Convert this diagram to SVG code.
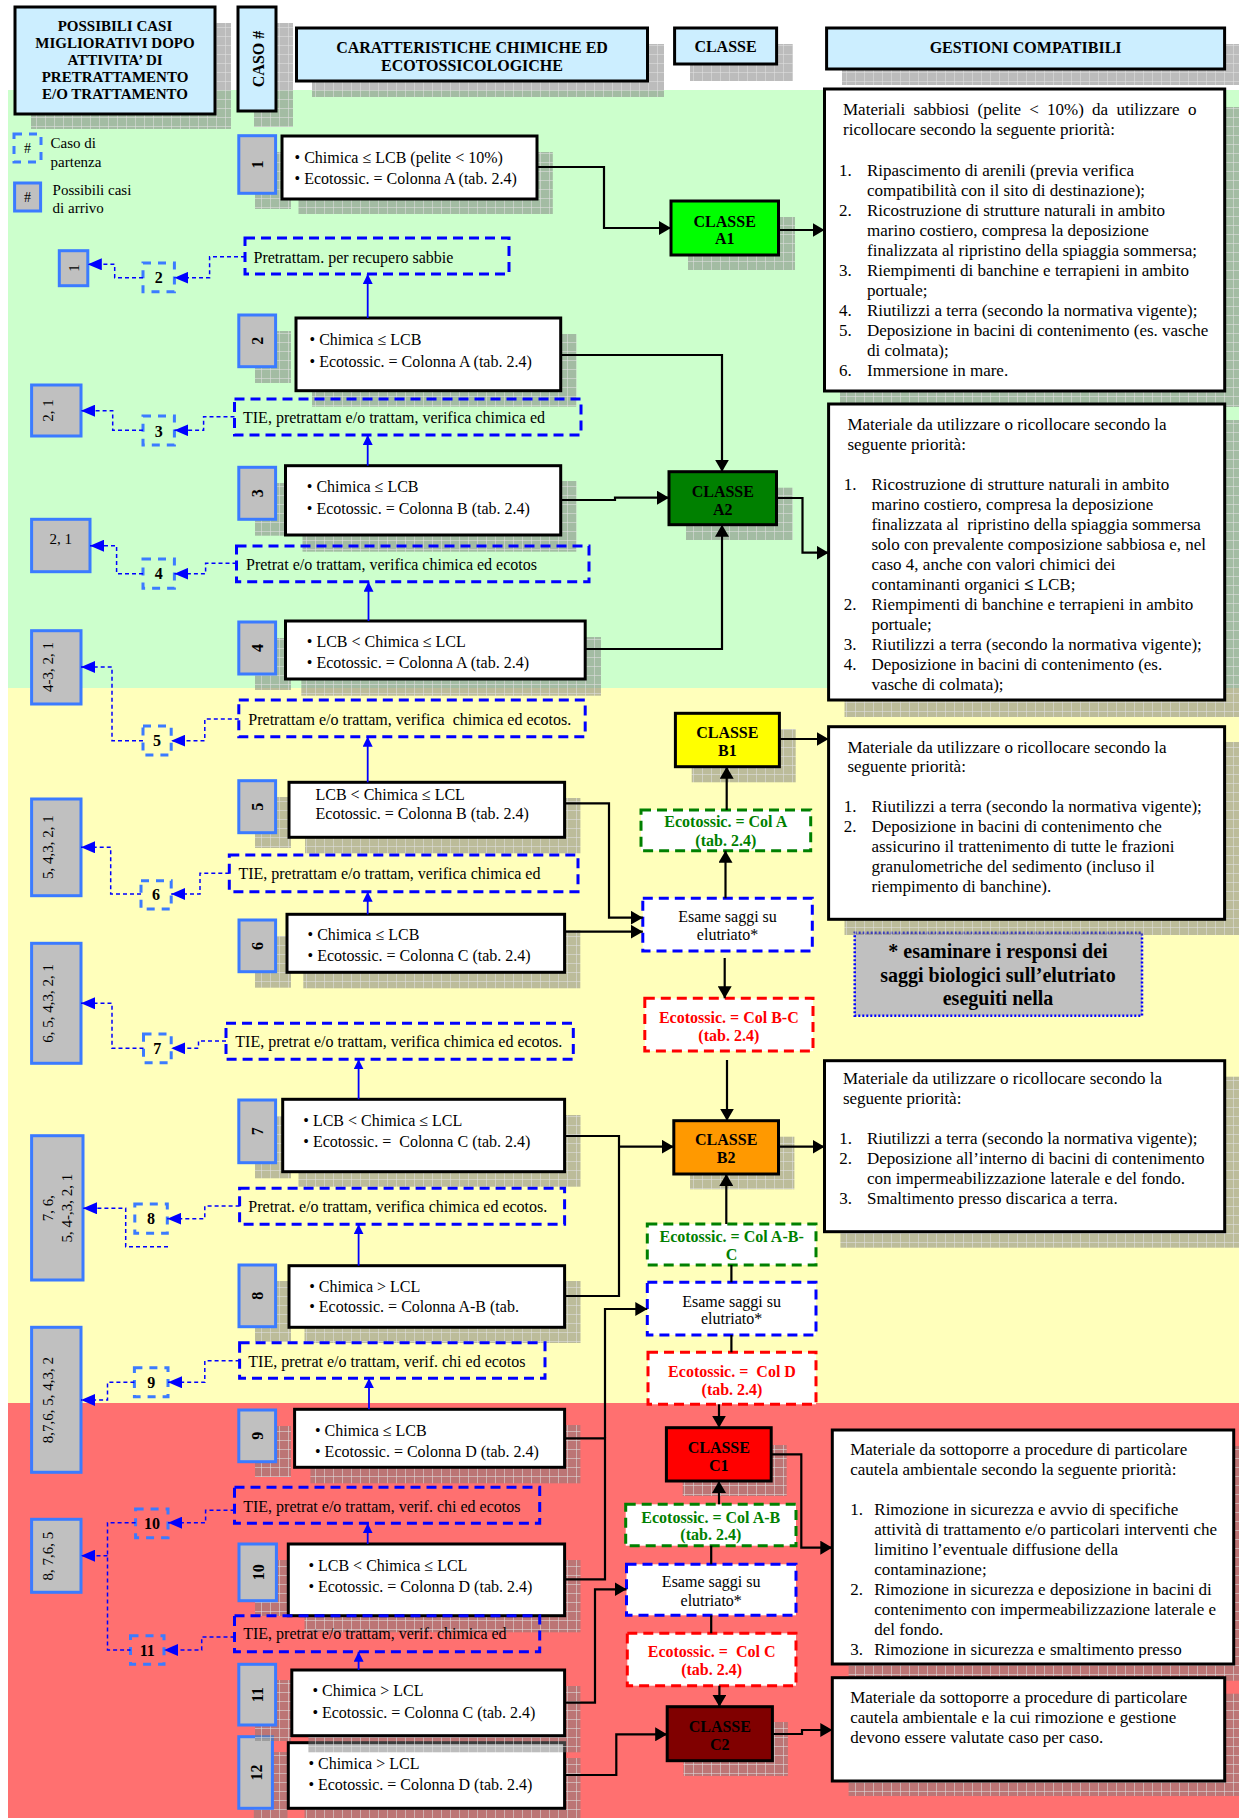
<svg xmlns="http://www.w3.org/2000/svg" width="1239" height="1818" viewBox="0 0 1239 1818">
<defs>
<style>
text{font-family:"Liberation Serif","Times New Roman",serif;fill:#000}
.b{font-weight:bold}
.m{text-anchor:middle}
.f14{font-size:14px}
.f15{font-size:15px}
.f16{font-size:16px}
.f17{font-size:17px}
.f20{font-size:20px}
.pre{white-space:pre}
.hdr{fill:#cceeff;stroke:#000;stroke-width:3}
.sh{fill:url(#hatch)}
.num{fill:#c0c0c0;stroke:#3b7bff;stroke-width:3}
.box{fill:#fff;stroke:#000;stroke-width:3}
.dbox{fill:none;stroke:#0000ff;stroke-width:3;stroke-dasharray:10 6}
.sbox{fill:none;stroke:#3b7bff;stroke-width:3;stroke-dasharray:8 7}
.dl{fill:none;stroke:#0000ff;stroke-width:1.5;stroke-dasharray:4 3}
.ul{fill:none;stroke:#0000ff;stroke-width:1.8}
.cl{fill:none;stroke:#000;stroke-width:2.2}
.eg{fill:#fff;stroke:#008000;stroke-width:3;stroke-dasharray:10 6}
.er{fill:#fff;stroke:#ff0000;stroke-width:3;stroke-dasharray:10 6}
.eb{fill:#fff;stroke:#0000ff;stroke-width:3;stroke-dasharray:10 6}
.cls{stroke:#000;stroke-width:3}
.tg{fill:#008000}
.tr{fill:#ff0000}
.note{fill:#c0c0c0;stroke:#0000ff;stroke-width:2.5;stroke-dasharray:2 2}
</style>
<pattern id="hatch" patternUnits="userSpaceOnUse" width="9" height="9">
<rect width="9" height="9" fill="#7a7a7a" fill-opacity="0.5"/>
<path d="M0 .5H9M.5 0V9" stroke="#e0e0e0" stroke-opacity="0.55" stroke-width="1"/>
</pattern>
<marker id="ak" viewBox="0 0 12 14" refX="12" refY="7" markerWidth="12" markerHeight="14" markerUnits="userSpaceOnUse" orient="auto"><path d="M0,0L12,7L0,14Z" fill="#000"/></marker>
<marker id="ab" viewBox="0 0 10 10" refX="10" refY="5" markerWidth="10" markerHeight="10" markerUnits="userSpaceOnUse" orient="auto"><path d="M0,0L10,5L0,10Z" fill="#0000ff"/></marker>
<marker id="ad" viewBox="0 0 14 12" refX="14" refY="6" markerWidth="14" markerHeight="12" markerUnits="userSpaceOnUse" orient="auto"><path d="M0,0L14,6L0,12Z" fill="#0000ff"/></marker>
<clipPath id="clipC1"><rect x="832" y="1430" width="402" height="228"/></clipPath>
</defs>

<rect width="1239" height="1818" fill="#fff"/>
<g id="bands">
<rect x="8" y="90" width="1231" height="598" fill="#ccffcc"/>
<rect x="8" y="688" width="1231" height="715" fill="#ffffbb"/>
<rect x="8" y="1403" width="1231" height="415" fill="#ff7070"/>
</g>

<g id="header-casi">
<rect class="sh" x="31" y="23" width="200" height="106"/>
<rect class="hdr" x="15" y="7" width="200" height="107"/>
<text class="b m f15"><tspan x="115" y="31">POSSIBILI CASI</tspan><tspan x="115" y="48">MIGLIORATIVI DOPO</tspan><tspan x="115" y="65">ATTIVITA’ DI</tspan><tspan x="115" y="82">PRETRATTAMENTO</tspan><tspan x="115" y="99">E/O TRATTAMENTO</tspan></text>
</g>
<g id="header-caso">
<rect class="sh" x="254" y="23" width="39" height="104"/>
<rect class="hdr" x="238" y="7" width="38" height="104"/>
<text class="b m f16" transform="translate(264,59) rotate(-90)">CASO #</text>
</g>
<g id="header-caratteristiche">
<rect class="sh" x="312" y="44" width="352" height="53"/>
<rect class="hdr" x="296.5" y="28" width="351" height="53"/>
<text class="b m f16"><tspan x="472" y="53">CARATTERISTICHE CHIMICHE ED</tspan><tspan x="472" y="71">ECOTOSSICOLOGICHE</tspan></text>
</g>
<g id="header-classe">
<rect class="sh" x="690" y="44" width="103" height="37"/>
<rect class="hdr" x="674.6" y="28" width="102" height="36"/>
<text class="b m f16" x="725.5" y="52">CLASSE</text>
</g>
<g id="header-gestioni">
<rect class="sh" x="842" y="44" width="397" height="41"/>
<rect class="hdr" x="826.6" y="28" width="398" height="41"/>
<text class="b m f16" x="1025.6" y="53">GESTIONI COMPATIBILI</text>
</g>

<g id="legend">
<rect class="sbox" x="14" y="134" width="27" height="28"/>
<text class="m f14" x="27.5" y="153">#</text>
<text class="f15"><tspan x="50.6" y="148">Caso di</tspan><tspan x="50.6" y="167">partenza</tspan></text>
<rect class="num" x="14.6" y="183" width="26" height="28"/>
<text class="m f14" x="27.5" y="202">#</text>
<text class="f15"><tspan x="52.6" y="195">Possibili casi</tspan><tspan x="52.6" y="213">di arrivo</tspan></text>
</g>

<!-- CASE NODES -->
<g id="case1">
<rect class="sh" x="255" y="152" width="36" height="57"/>
<rect class="sh" x="298.5" y="152" width="254.3" height="62"/>
<rect class="num" x="238.8" y="135.7" width="36.8" height="57.6"/>
<rect class="box" x="282" y="136" width="255" height="63"/>
<text class="b m f16" transform="translate(263,164.5) rotate(-90)">1</text>
<text class="f16"><tspan x="294.6" y="163">• Chimica ≤ LCB (pelite &lt; 10%)</tspan><tspan x="294.6" y="184">• Ecotossic. = Colonna A (tab. 2.4)</tspan></text>
</g>
<g id="case2">
<rect class="sh" x="255" y="331" width="36" height="52"/>
<rect class="sh" x="312" y="334" width="264.5" height="72.7"/>
<rect class="num" x="238.8" y="315" width="36.8" height="51.7"/>
<rect class="box" x="296" y="318" width="264.7" height="72.7"/>
<text class="b m f16" transform="translate(263,340.8) rotate(-90)">2</text>
<text class="f16"><tspan x="309.6" y="345">• Chimica ≤ LCB</tspan><tspan x="309.6" y="366.7">• Ecotossic. = Colonna A (tab. 2.4)</tspan></text>
</g>
<g id="case3">
<rect class="sh" x="255" y="483" width="36" height="52.7"/>
<rect class="sh" x="302.5" y="481" width="274" height="70.7"/>
<rect class="num" x="238.8" y="467.3" width="36.8" height="52"/>
<rect class="box" x="285.5" y="465.7" width="275.2" height="69.3"/>
<text class="b m f16" transform="translate(263,493.3) rotate(-90)">3</text>
<text class="f16"><tspan x="306.8" y="491.7">• Chimica ≤ LCB</tspan><tspan x="306.8" y="514">• Ecotossic. = Colonna B (tab. 2.4)</tspan></text>
</g>
<g id="case4">
<rect class="sh" x="255" y="638" width="36" height="52"/>
<rect class="sh" x="301.3" y="637" width="299.7" height="58.7"/>
<rect class="num" x="238.8" y="622" width="36.8" height="52"/>
<rect class="box" x="285.5" y="621" width="299.7" height="58"/>
<text class="b m f16" transform="translate(263,648) rotate(-90)">4</text>
<text class="f16"><tspan x="306.8" y="646.7">• LCB &lt; Chimica ≤ LCL</tspan><tspan x="306.8" y="667.7">• Ecotossic. = Colonna A (tab. 2.4)</tspan></text>
</g>
<g id="case5">
<rect class="sh" x="255" y="797" width="36" height="51"/>
<rect class="sh" x="305" y="798" width="275.4" height="55.3"/>
<rect class="num" x="238.8" y="780.7" width="36.8" height="52"/>
<rect class="box" x="289" y="782.3" width="275.6" height="55"/>
<text class="b m f16" transform="translate(263,806.7) rotate(-90)">5</text>
<text class="f16"><tspan x="315.5" y="800">LCB &lt; Chimica ≤ LCL</tspan><tspan x="315.5" y="819">Ecotossic. = Colonna B (tab. 2.4)</tspan></text>
</g>
<g id="case6">
<rect class="sh" x="255" y="936" width="36" height="51.7"/>
<rect class="sh" x="303.3" y="930" width="277" height="58.3"/>
<rect class="num" x="239" y="920" width="36.6" height="51.7"/>
<rect class="box" x="287" y="914.3" width="277.6" height="58"/>
<text class="b m f16" transform="translate(263,946) rotate(-90)">6</text>
<text class="f16"><tspan x="307.6" y="940">• Chimica ≤ LCB</tspan><tspan x="307.6" y="961">• Ecotossic. = Colonna C (tab. 2.4)</tspan></text>
</g>
<g id="case7">
<rect class="sh" x="255" y="1116" width="36" height="62.3"/>
<rect class="sh" x="298.5" y="1115" width="282" height="71.7"/>
<rect class="num" x="238.8" y="1100" width="36.8" height="62.7"/>
<rect class="box" x="282.7" y="1099.3" width="281.9" height="72.4"/>
<text class="b m f16" transform="translate(263,1131.3) rotate(-90)">7</text>
<text class="f16 pre"><tspan x="303.3" y="1126">• LCB &lt; Chimica ≤ LCL</tspan><tspan x="303.3" y="1146.7">• Ecotossic. =  Colonna C (tab. 2.4)</tspan></text>
</g>
<g id="case8">
<rect class="sh" x="255" y="1281" width="36" height="61"/>
<rect class="sh" x="304.5" y="1281" width="276" height="62"/>
<rect class="num" x="239" y="1265" width="36.6" height="61.7"/>
<rect class="box" x="289" y="1265.7" width="275.6" height="61.6"/>
<text class="b m f16" transform="translate(263,1295.8) rotate(-90)">8</text>
<text class="f16"><tspan x="309.2" y="1291.7">• Chimica &gt; LCL</tspan><tspan x="309.2" y="1312.3">• Ecotossic. = Colonna A-B (tab.</tspan></text>
</g>
<g id="case9">
<rect class="sh" x="255" y="1426" width="36" height="51"/>
<rect class="sh" x="310.4" y="1425" width="270" height="58.3"/>
<rect class="num" x="238.8" y="1410" width="36.8" height="51.7"/>
<rect class="box" x="294.6" y="1409.3" width="270" height="58"/>
<text class="b m f16" transform="translate(263,1435.8) rotate(-90)">9</text>
<text class="f16"><tspan x="315" y="1435.7">• Chimica ≤ LCB</tspan><tspan x="315" y="1456.7">• Ecotossic. = Colonna D (tab. 2.4)</tspan></text>
</g>
<g id="case10">
<rect class="sh" x="255" y="1560" width="37" height="56"/>
<rect class="sh" x="304.5" y="1560" width="276" height="72.3"/>
<rect class="num" x="239" y="1544" width="37.4" height="56.7"/>
<rect class="box" x="288.3" y="1544" width="276.3" height="71.7"/>
<text class="b m f16" transform="translate(263.5,1572.3) rotate(-90)">10</text>
<text class="f16"><tspan x="308.4" y="1570.7">• LCB &lt; Chimica ≤ LCL</tspan><tspan x="308.4" y="1591.7">• Ecotossic. = Colonna D (tab. 2.4)</tspan></text>
</g>
<g id="case12">
<rect class="sh" x="253.8" y="1752" width="33.7" height="66"/>
<rect class="sh" x="304.5" y="1758" width="276" height="60"/>
<rect class="num" x="238.8" y="1736.7" width="33.6" height="71.6"/>
<rect class="box" x="288.3" y="1742.7" width="276.3" height="65.6"/>
<text class="b m f16" transform="translate(261.5,1772.5) rotate(-90)">12</text>
<text class="f16"><tspan x="308.4" y="1769">• Chimica &gt; LCL</tspan><tspan x="308.4" y="1790">• Ecotossic. = Colonna D (tab. 2.4)</tspan></text>
</g>
<g id="case11">
<rect class="sh" x="255" y="1680" width="36" height="61"/>
<rect class="sh" x="308.4" y="1686" width="272" height="66.3"/>
<rect class="num" x="238.8" y="1664.3" width="36.8" height="60.7"/>
<rect class="box" x="291.8" y="1670" width="272.8" height="65.7"/>
<text class="b m f16" transform="translate(263,1694.7) rotate(-90)">11</text>
<text class="f16"><tspan x="312.4" y="1695.7">• Chimica &gt; LCL</tspan><tspan x="312.4" y="1717.7">• Ecotossic. = Colonna C (tab. 2.4)</tspan></text>
</g>

<!-- TREATMENT (dashed) NODES -->
<g id="proc2"><rect class="dbox" x="245" y="238" width="264" height="36"/><text class="f16" x="253.5" y="263">Pretrattam. per recupero sabbie</text></g>
<g id="proc3"><rect class="dbox" x="234.5" y="399" width="346.5" height="36"/><text class="f16" x="243" y="422.7">TIE, pretrattam e/o trattam, verifica chimica ed</text></g>
<g id="proc4"><rect class="dbox" x="236.5" y="546" width="352.5" height="35.7"/><text class="f16" x="246" y="570">Pretrat e/o trattam, verifica chimica ed ecotos</text></g>
<g id="proc5"><rect class="dbox" x="238.8" y="700" width="346.4" height="36.7"/><text class="f16 pre" x="248.3" y="725">Pretrattam e/o trattam, verifica  chimica ed ecotos.</text></g>
<g id="proc6"><rect class="dbox" x="229.3" y="855" width="348.7" height="36.7"/><text class="f16" x="238.4" y="879.3">TIE, pretrattam e/o trattam, verifica chimica ed</text></g>
<g id="proc7"><rect class="dbox" x="226" y="1023.3" width="347.3" height="36"/><text class="f16" x="235.3" y="1046.7">TIE, pretrat e/o trattam, verifica chimica ed ecotos.</text></g>
<g id="proc8"><rect class="dbox" x="239.6" y="1188.3" width="325" height="36"/><text class="f16" x="248.3" y="1212.3">Pretrat. e/o trattam, verifica chimica ed ecotos.</text></g>
<g id="proc9"><rect class="dbox" x="239.6" y="1342.7" width="305.4" height="35.6"/><text class="f16" x="248.3" y="1366.7">TIE, pretrat e/o trattam, verif. chi ed ecotos</text></g>
<g id="proc10"><rect class="dbox" x="234.5" y="1487.3" width="305.2" height="36"/><text class="f16" x="243.2" y="1511.7">TIE, pretrat e/o trattam, verif. chi ed ecotos</text></g>
<g id="proc11"><rect class="dbox" x="234.5" y="1615.7" width="305.2" height="36"/><text class="f16" x="243.2" y="1639.3">TIE, pretrat e/o trattam, verif. chimica ed</text></g>

<!-- START CASE (small dashed) NODES -->
<g id="start2"><rect class="sbox" x="143" y="263" width="31.4" height="28.7"/><text class="b m f16" x="158.7" y="283">2</text></g>
<g id="start3"><rect class="sbox" x="143" y="416" width="31.4" height="29"/><text class="b m f16" x="158.7" y="436.7">3</text></g>
<g id="start4"><rect class="sbox" x="143" y="559" width="31.4" height="29.3"/><text class="b m f16" x="158.7" y="579.3">4</text></g>
<g id="start5"><rect class="sbox" x="143" y="726" width="28.2" height="29"/><text class="b m f16" x="157" y="746">5</text></g>
<g id="start6"><rect class="sbox" x="141" y="880.7" width="30.2" height="28.3"/><text class="b m f16" x="156" y="900">6</text></g>
<g id="start7"><rect class="sbox" x="143.5" y="1034" width="27.7" height="28.7"/><text class="b m f16" x="157.3" y="1054">7</text></g>
<g id="start8"><rect class="sbox" x="134.8" y="1204" width="32.5" height="29.3"/><text class="b m f16" x="151" y="1224.3">8</text></g>
<g id="start9"><rect class="sbox" x="134.4" y="1367.7" width="33.6" height="29"/><text class="b m f16" x="151.2" y="1387.7">9</text></g>
<g id="start10"><rect class="sbox" x="135.6" y="1509" width="32.4" height="28.7"/><text class="b m f16" x="152" y="1529.3">10</text></g>
<g id="start11"><rect class="sbox" x="130.5" y="1635.7" width="33.5" height="28.6"/><text class="b m f16" x="147.3" y="1656">11</text></g>

<!-- ARRIVAL NODES -->
<g id="arr2"><rect class="num" x="59.3" y="250.7" width="28.5" height="35"/><text class="m f15" transform="translate(79,268) rotate(-90)">1</text></g>
<g id="arr3"><rect class="num" x="31.6" y="385" width="49.4" height="51"/><text class="m f15" transform="translate(53,410.5) rotate(-90)">2, 1</text></g>
<g id="arr4"><rect class="num" x="31.6" y="519.3" width="58.4" height="52.4"/><text class="m f15" x="60.8" y="544">2, 1</text></g>
<g id="arr5"><rect class="num" x="31.6" y="630.7" width="49.4" height="73.3"/><text class="m f15" transform="translate(53,667) rotate(-90)">4-3, 2, 1</text></g>
<g id="arr6"><rect class="num" x="31.6" y="799" width="49.4" height="96.7"/><text class="m f15" transform="translate(53,847) rotate(-90)">5, 4,3, 2, 1</text></g>
<g id="arr7"><rect class="num" x="31.6" y="943.3" width="49.4" height="120"/><text class="m f15" transform="translate(53,1003.3) rotate(-90)">6, 5, 4,3, 2, 1</text></g>
<g id="arr8"><rect class="num" x="31.6" y="1135.7" width="51.4" height="144.3"/><text class="m f15" transform="translate(53,1208) rotate(-90)">7, 6,</text><text class="m f15" transform="translate(72,1208) rotate(-90)">5, 4-,3, 2, 1</text></g>
<g id="arr9"><rect class="num" x="31.6" y="1327.3" width="49.4" height="145"/><text class="m f15" transform="translate(53,1400) rotate(-90)">8,7,6, 5, 4,3, 2</text></g>
<g id="arr10-11"><rect class="num" x="31.6" y="1519.3" width="49.4" height="73"/><text class="m f15" transform="translate(53,1556) rotate(-90)">8, 7,6, 5</text></g>

<!-- CLASS NODES -->
<g id="classA1"><rect class="sh" x="688" y="217" width="107" height="53"/><rect class="cls" fill="#00ff00" x="671" y="201" width="107.5" height="54"/><text class="b m f16"><tspan x="724.7" y="227">CLASSE</tspan><tspan x="724.7" y="244">A1</tspan></text></g>
<g id="classA2"><rect class="sh" x="686" y="487.7" width="106.7" height="52.3"/><rect class="cls" fill="#008000" x="669" y="471.7" width="107.5" height="53"/><text class="b m f16"><tspan x="722.8" y="497">CLASSE</tspan><tspan x="722.8" y="515">A2</tspan></text></g>
<g id="classB1"><rect class="sh" x="691.7" y="729" width="104" height="53.3"/><rect class="cls" fill="#ffff00" x="675.4" y="713.3" width="104" height="53.4"/><text class="b m f16"><tspan x="727.3" y="738.3">CLASSE</tspan><tspan x="727.3" y="756">B1</tspan></text></g>
<g id="classB2"><rect class="sh" x="690" y="1136.7" width="104.4" height="52.6"/><rect class="cls" fill="#ff9900" x="673.8" y="1120.7" width="104.7" height="53.3"/><text class="b m f16"><tspan x="726.2" y="1145">CLASSE</tspan><tspan x="726.2" y="1163.3">B2</tspan></text></g>
<g id="classC1"><rect class="sh" x="682.7" y="1445" width="104" height="51"/><rect class="cls" fill="#ff0000" x="666.4" y="1427.7" width="104.8" height="53.3"/><text class="b m f16"><tspan x="718.8" y="1453.3">CLASSE</tspan><tspan x="718.8" y="1471">C1</tspan></text></g>
<g id="classC2"><rect class="sh" x="683.5" y="1722" width="104.4" height="54"/><rect class="cls" fill="#800000" x="667.2" y="1706.7" width="105.2" height="54"/><text class="b m f16"><tspan x="719.8" y="1732.3">CLASSE</tspan><tspan x="719.8" y="1750">C2</tspan></text></g>

<!-- ECOTOX / ELUTRIATE NODES -->
<g id="ecoA"><rect class="eg" x="641" y="810" width="169.7" height="40.7"/><text class="b m f16 tg"><tspan x="725.8" y="827.3">Ecotossic. = Col A</tspan><tspan x="725.8" y="846">(tab. 2.4)</tspan></text></g>
<g id="esame1"><rect class="eb" x="642.8" y="898.3" width="169.5" height="52.7"/><text class="m f16"><tspan x="727.5" y="922.3">Esame saggi su</tspan><tspan x="727.5" y="940">elutriato*</tspan></text></g>
<g id="ecoBC"><rect class="er" x="644.8" y="998.3" width="168.2" height="52.7"/><text class="b m f16 tr"><tspan x="728.8" y="1022.7">Ecotossic. = Col B-C</tspan><tspan x="728.8" y="1040.7">(tab. 2.4)</tspan></text></g>
<g id="ecoABC"><rect class="eg" x="647.3" y="1224" width="168.7" height="41"/><text class="b m f16 tg"><tspan x="731.6" y="1241.7">Ecotossic. = Col A-B-</tspan><tspan x="731.6" y="1260">C</tspan></text></g>
<g id="esame2"><rect class="eb" x="647.3" y="1282.3" width="168.7" height="52.7"/><text class="m f16"><tspan x="731.6" y="1306.7">Esame saggi su</tspan><tspan x="731.6" y="1324">elutriato*</tspan></text></g>
<g id="ecoD"><rect class="er" x="648" y="1352.3" width="168" height="52"/><text class="b m f16 tr pre"><tspan x="732" y="1376.7">Ecotossic. =  Col D</tspan><tspan x="732" y="1395">(tab. 2.4)</tspan></text></g>
<g id="ecoAB"><rect class="eg" x="625.7" y="1504.3" width="170.3" height="41.4"/><text class="b m f16 tg"><tspan x="710.8" y="1522.7">Ecotossic. = Col A-B</tspan><tspan x="710.8" y="1540">(tab. 2.4)</tspan></text></g>
<g id="esame3"><rect class="eb" x="626.5" y="1564.3" width="169.5" height="51"/><text class="m f16"><tspan x="711.2" y="1586.7">Esame saggi su</tspan><tspan x="711.2" y="1605.7">elutriato*</tspan></text></g>
<g id="ecoC"><rect class="er" x="627.3" y="1633.3" width="168.7" height="52.4"/><text class="b m f16 tr pre"><tspan x="711.6" y="1657.3">Ecotossic. =  Col C</tspan><tspan x="711.6" y="1675">(tab. 2.4)</tspan></text></g>

<g id="note"><rect class="note" x="854.7" y="932.7" width="287.3" height="83"/><text class="b m f20"><tspan x="998" y="958.3">* esaminare i responsi dei</tspan><tspan x="998" y="981.7">saggi biologici sull’elutriato</tspan><tspan x="998" y="1005">eseguiti nella</tspan></text></g>

<!-- MANAGEMENT PANELS -->
<g id="gestA1">
<rect class="sh" x="840" y="107" width="399" height="300"/>
<rect class="box" x="824.5" y="89" width="400.2" height="302"/>
<text class="f17"><tspan x="843" y="115" word-spacing="4">Materiali sabbiosi (pelite &lt; 10%) da utilizzare o</tspan><tspan x="843" y="135">ricollocare secondo la seguente priorità:</tspan></text>
<text class="f17"><tspan x="839" y="176">1.</tspan><tspan x="839" y="216">2.</tspan><tspan x="839" y="276">3.</tspan><tspan x="839" y="316">4.</tspan><tspan x="839" y="336">5.</tspan><tspan x="839" y="376">6.</tspan></text>
<text class="f17"><tspan x="867" y="176">Ripascimento di arenili (previa verifica</tspan><tspan x="867" y="196">compatibilità con il sito di destinazione);</tspan><tspan x="867" y="216">Ricostruzione di strutture naturali in ambito</tspan><tspan x="867" y="236">marino costiero, compresa la deposizione</tspan><tspan x="867" y="256">finalizzata al ripristino della spiaggia sommersa;</tspan><tspan x="867" y="276">Riempimenti di banchine e terrapieni in ambito</tspan><tspan x="867" y="296">portuale;</tspan><tspan x="867" y="316">Riutilizzi a terra (secondo la normativa vigente);</tspan><tspan x="867" y="336">Deposizione in bacini di contenimento (es. vasche</tspan><tspan x="867" y="356">di colmata);</tspan><tspan x="867" y="376">Immersione in mare.</tspan></text>
</g>
<g id="gestA2">
<rect class="sh" x="844.5" y="420" width="395" height="297"/>
<rect class="box" x="828.6" y="404" width="396.1" height="296"/>
<text class="f17"><tspan x="847.4" y="430">Materiale da utilizzare o ricollocare secondo la</tspan><tspan x="847.4" y="450">seguente priorità:</tspan></text>
<text class="f17"><tspan x="843.7" y="490">1.</tspan><tspan x="843.7" y="610">2.</tspan><tspan x="843.7" y="650">3.</tspan><tspan x="843.7" y="670">4.</tspan></text>
<text class="f17 pre"><tspan x="871.4" y="490">Ricostruzione di strutture naturali in ambito</tspan><tspan x="871.4" y="510">marino costiero, compresa la deposizione</tspan><tspan x="871.4" y="530">finalizzata al  ripristino della spiaggia sommersa</tspan><tspan x="871.4" y="550">solo con prevalente composizione sabbiosa e, nel</tspan><tspan x="871.4" y="570">caso 4, anche con valori chimici dei</tspan><tspan x="871.4" y="590">contaminanti organici <tspan class="b">≤</tspan> LCB;</tspan><tspan x="871.4" y="610">Riempimenti di banchine e terrapieni in ambito</tspan><tspan x="871.4" y="630">portuale;</tspan><tspan x="871.4" y="650">Riutilizzi a terra (secondo la normativa vigente);</tspan><tspan x="871.4" y="670">Deposizione in bacini di contenimento (es.</tspan><tspan x="871.4" y="690">vasche di colmata);</tspan></text>
</g>
<g id="gestB1">
<rect class="sh" x="844.5" y="742" width="395" height="193"/>
<rect class="box" x="828.6" y="726.7" width="396" height="192.6"/>
<text class="f17"><tspan x="847.4" y="752.7">Materiale da utilizzare o ricollocare secondo la</tspan><tspan x="847.4" y="771.7">seguente priorità:</tspan></text>
<text class="f17"><tspan x="843.7" y="811.7">1.</tspan><tspan x="843.7" y="831.7">2.</tspan></text>
<text class="f17"><tspan x="871.4" y="811.7">Riutilizzi a terra (secondo la normativa vigente);</tspan><tspan x="871.4" y="831.7">Deposizione in bacini di contenimento che</tspan><tspan x="871.4" y="851.7">assicurino il trattenimento di tutte le frazioni</tspan><tspan x="871.4" y="871.7">granulometriche del sedimento (incluso il</tspan><tspan x="871.4" y="891.7">riempimento di banchine).</tspan></text>
</g>
<g id="gestB2">
<rect class="sh" x="840.4" y="1076.7" width="399" height="171"/>
<rect class="box" x="824.5" y="1060.7" width="400.2" height="171"/>
<text class="f17"><tspan x="842.9" y="1084">Materiale da utilizzare o ricollocare secondo la</tspan><tspan x="842.9" y="1104">seguente priorità:</tspan></text>
<text class="f17"><tspan x="839.2" y="1144.3">1.</tspan><tspan x="839.2" y="1164.3">2.</tspan><tspan x="839.2" y="1204.3">3.</tspan></text>
<text class="f17"><tspan x="867" y="1144.3">Riutilizzi a terra (secondo la normativa vigente);</tspan><tspan x="867" y="1164.3">Deposizione all’interno di bacini di contenimento</tspan><tspan x="867" y="1184.3">con impermeabilizzazione laterale e del fondo.</tspan><tspan x="867" y="1204.3">Smaltimento presso discarica a terra.</tspan></text>
</g>
<g id="gestC1">
<rect class="sh" x="848.6" y="1446" width="391" height="234.7"/>
<rect class="box" x="832.3" y="1430" width="401.4" height="234"/>
<g clip-path="url(#clipC1)">
<text class="f17"><tspan x="850.2" y="1455">Materiale da sottoporre a procedure di particolare</tspan><tspan x="850.2" y="1475">cautela ambientale secondo la seguente priorità:</tspan></text>
<text class="f17"><tspan x="850.2" y="1515">1.</tspan><tspan x="850.2" y="1595">2.</tspan><tspan x="850.2" y="1655">3.</tspan></text>
<text class="f17"><tspan x="874.3" y="1515">Rimozione in sicurezza e avvio di specifiche</tspan><tspan x="874.3" y="1535">attività di trattamento e/o particolari interventi che</tspan><tspan x="874.3" y="1555">limitino l’eventuale diffusione della</tspan><tspan x="874.3" y="1575">contaminazione;</tspan><tspan x="874.3" y="1595">Rimozione in sicurezza e deposizione in bacini di</tspan><tspan x="874.3" y="1615">contenimento con impermeabilizzazione laterale e</tspan><tspan x="874.3" y="1635">del fondo.</tspan><tspan x="874.3" y="1655">Rimozione in sicurezza e smaltimento presso</tspan></text>
</g>
</g>
<g id="gestC2">
<rect class="sh" x="848.6" y="1693.7" width="391" height="102.3"/>
<rect class="box" x="832.3" y="1677.7" width="392.4" height="103.3"/>
<text class="f17"><tspan x="850.2" y="1702.7">Materiale da sottoporre a procedure di particolare</tspan><tspan x="850.2" y="1722.7">cautela ambientale e la cui rimozione e gestione</tspan><tspan x="850.2" y="1742.7">devono essere valutate caso per caso.</tspan></text>
</g>

<!-- CONNECTORS -->
<g id="connectors">
<path class="cl" d="M537,167H604V228H671" marker-end="url(#ak)"/>
<path class="cl" d="M560.7,355H722V471.7" marker-end="url(#ak)"/>
<path class="cl" d="M560.7,500H615V497.7H669" marker-end="url(#ak)"/>
<path class="cl" d="M585.2,649H722V524.7" marker-end="url(#ak)"/>
<path class="cl" d="M778.5,230H824.5" marker-end="url(#ak)"/>
<path class="cl" d="M776.5,498H802.5V552.7H828.6" marker-end="url(#ak)"/>
<path class="cl" d="M779.4,739H828.6" marker-end="url(#ak)"/>
<path class="cl" d="M564.6,803.3H609V917.7H642.8" marker-end="url(#ak)"/>
<path class="cl" d="M564.6,931.7H642.8" marker-end="url(#ak)"/>
<path class="cl" d="M726.7,810V766.7" marker-end="url(#ak)"/>
<path class="cl" d="M725.5,898.3V850.7" marker-end="url(#ak)"/>
<path class="cl" d="M724.7,958V998.3" marker-end="url(#ak)"/>
<path class="cl" d="M727,1060V1120.7" marker-end="url(#ak)"/>
<path class="cl" d="M564.6,1136H619V1296H564.6"/>
<path class="cl" d="M619,1146.7H673.8" marker-end="url(#ak)"/>
<path class="cl" d="M778.5,1146.7H824.5" marker-end="url(#ak)"/>
<path class="cl" d="M726.3,1224V1174" marker-end="url(#ak)"/>
<path class="cl" d="M731.4,1265V1282.3"/>
<path class="cl" d="M731.4,1335V1352.3"/>
<path class="cl" d="M564.6,1438.3H605V1579.3H564.6"/>
<path class="cl" d="M605,1438.3V1309H647.3" marker-end="url(#ak)"/>
<path class="cl" d="M719,1404.3V1427.7" marker-end="url(#ak)"/>
<path class="cl" d="M719,1504.3V1481" marker-end="url(#ak)"/>
<path class="cl" d="M711.2,1545.7V1564.3"/>
<path class="cl" d="M711.2,1615.3V1633.3"/>
<path class="cl" d="M719.4,1685.7V1706.7" marker-end="url(#ak)"/>
<path class="cl" d="M771.2,1454.3H801.3V1547.7H832.3" marker-end="url(#ak)"/>
<path class="cl" d="M564.6,1702.7H595V1589.3H626.5" marker-end="url(#ak)"/>
<path class="cl" d="M564.6,1775H616.3V1734.3H667.2" marker-end="url(#ak)"/>
<path class="cl" d="M772.4,1734H802V1730H832.3" marker-end="url(#ak)"/>
<path class="ul" d="M367.7,318V274" marker-end="url(#ab)"/>
<path class="ul" d="M367.7,465.7V435" marker-end="url(#ab)"/>
<path class="ul" d="M368.5,621V581.7" marker-end="url(#ab)"/>
<path class="ul" d="M367.7,782.3V736.7" marker-end="url(#ab)"/>
<path class="ul" d="M367.7,914.3V891.7" marker-end="url(#ab)"/>
<path class="ul" d="M358.6,1099.3V1059.3" marker-end="url(#ab)"/>
<path class="ul" d="M358.6,1265.7V1224.3" marker-end="url(#ab)"/>
<path class="ul" d="M369,1409.3V1378.3" marker-end="url(#ab)"/>
<path class="ul" d="M367.7,1544V1523.3" marker-end="url(#ab)"/>
<path class="ul" d="M358.6,1670V1651.7" marker-end="url(#ab)"/>
<path class="dl" d="M245,256.7H209.6V277.7H174.4" marker-end="url(#ad)"/>
<path class="dl" d="M143,277.7H114.7V264.3H87.8" marker-end="url(#ad)"/>
<path class="dl" d="M234.5,416.7H203.6V430.3H174.4" marker-end="url(#ad)"/>
<path class="dl" d="M143,430.3H112.7V410.7H81" marker-end="url(#ad)"/>
<path class="dl" d="M236.5,563.3H205.6V573.7H174.4" marker-end="url(#ad)"/>
<path class="dl" d="M143,573.7H116.6V545.7H90" marker-end="url(#ad)"/>
<path class="dl" d="M238.8,719H204.8V740.7H171.2" marker-end="url(#ad)"/>
<path class="dl" d="M143,740.7H112V667H81" marker-end="url(#ad)"/>
<path class="dl" d="M229.3,873.3H200V894H171.2" marker-end="url(#ad)"/>
<path class="dl" d="M141,894H110.7V847.3H81" marker-end="url(#ad)"/>
<path class="dl" d="M226,1041H198.5V1048.3H171.2" marker-end="url(#ad)"/>
<path class="dl" d="M143.5,1048.3H112V1003.3H81" marker-end="url(#ad)"/>
<path class="dl" d="M239.6,1206H204.8V1218.7H167.3" marker-end="url(#ad)"/>
<path class="dl" d="M168,1246.7H125.7V1208.3H83" marker-end="url(#ad)"/>
<path class="dl" d="M239.6,1360.7H204.8V1382.3H168" marker-end="url(#ad)"/>
<path class="dl" d="M134.4,1382.3H107.5V1400H81" marker-end="url(#ad)"/>
<path class="dl" d="M234.5,1510.3H205.6V1522.7H168" marker-end="url(#ad)"/>
<path class="dl" d="M135.6,1522.7H107.5V1650H130.5"/>
<path class="dl" d="M107.5,1555.7H81" marker-end="url(#ad)"/>
<path class="dl" d="M234.5,1637H201.7V1650H164" marker-end="url(#ad)"/>
</g>
</svg>
